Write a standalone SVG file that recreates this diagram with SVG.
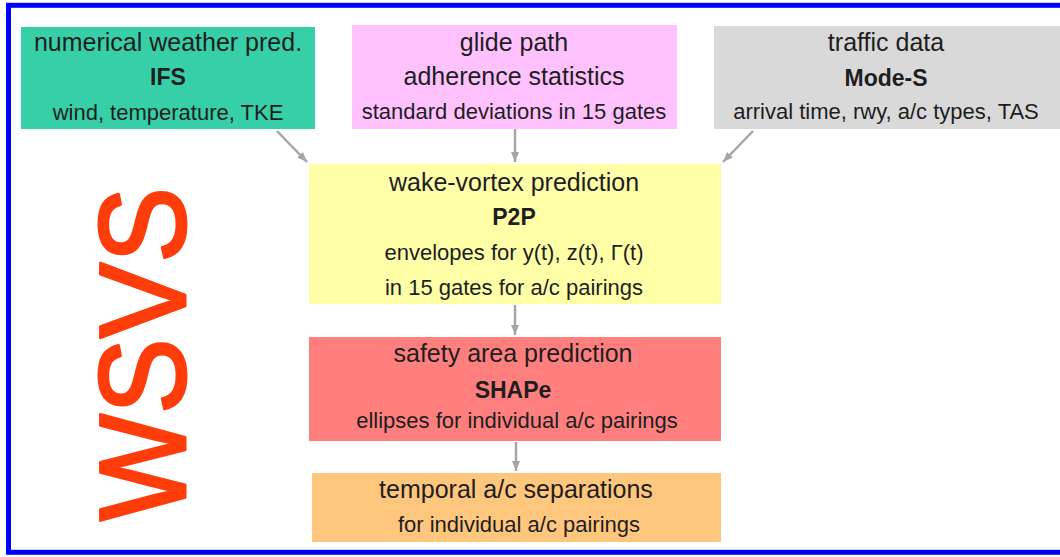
<svg xmlns="http://www.w3.org/2000/svg" width="1060" height="557" viewBox="0 0 1060 557">
<style>
text{font-family:"Liberation Sans",Arial,sans-serif;fill:#1e1e1e;text-anchor:middle}
.t{font-size:25px}
.b{font-size:23px;font-weight:bold}
.s{font-size:22px}
.c{stroke:#a6a6a6;stroke-width:2.5;fill:none}
</style>
<defs>
<marker id="ah" markerUnits="userSpaceOnUse" markerWidth="12" markerHeight="10" refX="10" refY="4" orient="auto">
<path d="M0,0 L10,4 L0,8 z" fill="#a6a6a6"/>
</marker>
</defs>
<rect width="1060" height="557" fill="#ffffff"/>
<rect x="8.5" y="5.3" width="1060" height="547" fill="none" stroke="#0000ff" stroke-width="5"/>
<g id="connectors">
<line class="c" x1="277" y1="131" x2="307" y2="162" marker-end="url(#ah)"/>
<line class="c" x1="515" y1="124" x2="515" y2="162" marker-end="url(#ah)"/>
<line class="c" x1="753" y1="131" x2="723" y2="162" marker-end="url(#ah)"/>
<line class="c" x1="515" y1="305" x2="515" y2="335" marker-end="url(#ah)"/>
<line class="c" x1="516" y1="442" x2="516" y2="471" marker-end="url(#ah)"/>
</g>
<g id="node-ifs">
<rect x="21" y="27" width="294" height="102" fill="#36cfa7"/>
<text class="t" x="168" y="51">numerical weather pred.</text>
<text class="b" x="168" y="85">IFS</text>
<text class="s" x="168" y="120">wind, temperature, TKE</text>
</g>
<g id="node-glide">
<rect x="352" y="25" width="325" height="104" fill="#ffc2ff"/>
<text class="t" x="514" y="51">glide path</text>
<text class="t" x="514" y="85">adherence statistics</text>
<text class="s" x="514" y="119">standard deviations in 15 gates</text>
</g>
<g id="node-modes">
<rect x="714" y="26" width="346" height="103" fill="#d9d9d9"/>
<text class="t" x="886" y="51">traffic data</text>
<text class="b" x="886" y="86">Mode-S</text>
<text class="s" x="886" y="119">arrival time, rwy, a/c types, TAS</text>
</g>
<g id="node-p2p">
<rect x="309" y="164" width="412" height="140" fill="#ffffa8"/>
<text class="t" x="514" y="191">wake-vortex prediction</text>
<text class="b" x="514" y="225">P2P</text>
<text class="s" x="514" y="260">envelopes for y(t), z(t), Γ(t)</text>
<text class="s" x="514" y="295">in 15 gates for a/c pairings</text>
</g>
<g id="node-shape">
<rect x="309" y="337" width="412" height="104" fill="#ff7f7f"/>
<text class="t" x="513" y="362">safety area prediction</text>
<text class="b" x="513" y="398">SHAPe</text>
<text class="s" x="517" y="428">ellipses for individual a/c pairings</text>
</g>
<g id="node-sep">
<rect x="312" y="473" width="409" height="69" fill="#ffc67d"/>
<text class="t" x="516" y="498">temporal a/c separations</text>
<text class="s" x="519" y="532">for individual a/c pairings</text>
</g>
<g id="label-wsvs">
<text x="0" y="0" transform="translate(185,354) rotate(-90)" font-size="122" textLength="334" lengthAdjust="spacingAndGlyphs" style="fill:#ff3d0a;stroke:#ff3d0a;stroke-width:3;stroke-linejoin:round">WSVS</text>
</g>
</svg>
